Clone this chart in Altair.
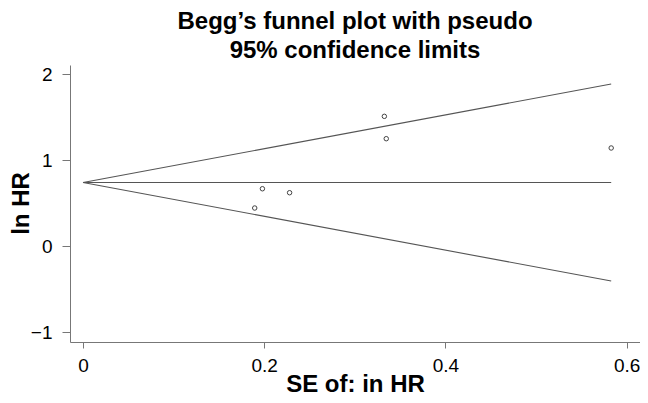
import altair as alt
import pandas as pd

# Study points (SE of ln HR, ln HR)
se = [0.1895, 0.198, 0.228, 0.3326, 0.3347, 0.583]
lnhr = [0.442, 0.666, 0.62, 1.508, 1.248, 1.14]

# Funnel lines (pseudo 95% limits) read at their two ends
line_se = [0.0, 0.583]
upper = [0.738, 1.884]
center = [0.738, 0.738]
lower = [0.738, -0.407]

x_ticks = [0, 0.2, 0.4, 0.6]
y_ticks = [-1, 0, 1, 2]

pts = pd.DataFrame({"se": se, "lnhr": lnhr})
lines = pd.DataFrame({
    "se": line_se * 3,
    "lnhr": upper + center + lower,
    "series": ["upper"] * 2 + ["center"] * 2 + ["lower"] * 2,
})

FONT = "Liberation Sans"

xscale = alt.Scale(domain=[-0.0144, 0.6148], nice=False, zero=False)
yscale = alt.Scale(domain=[-1.116, 2.105], nice=False, zero=False)

xaxis = alt.Axis(
    title="SE of: in HR", values=x_ticks, grid=False,
    labelExpr="datum.value == 0 ? '0' : format(datum.value, '.1f')",
    tickSize=6, labelPadding=8, titleY=49, titleBaseline="alphabetic",
)
yaxis = alt.Axis(
    title="ln HR", values=y_ticks, grid=False, format="d",
    tickSize=8, labelPadding=10, titleX=-42, titleY=138,
    titleBaseline="alphabetic", titleAngle=-90,
)

line_layer = alt.Chart(lines).mark_line(color="#555555", strokeWidth=1.1).encode(
    x=alt.X("se:Q", scale=xscale, axis=xaxis),
    y=alt.Y("lnhr:Q", scale=yscale, axis=yaxis),
    detail="series:N",
)

point_layer = alt.Chart(pts).mark_point(
    shape="circle", filled=False, size=20, stroke="#444444", strokeWidth=1, opacity=1
).encode(
    x=alt.X("se:Q", scale=xscale, axis=xaxis),
    y=alt.Y("lnhr:Q", scale=yscale, axis=yaxis),
)

chart = alt.layer(line_layer, point_layer).properties(
    width=570,
    height=277,
    padding={"left": 62, "top": 57, "right": 0, "bottom": 53},
    autosize=alt.AutoSizeParams(type="none"),
    title=alt.TitleParams(
        text=["Begg\u2019s funnel plot with pseudo", "95% confidence limits"],
        font=FONT, fontSize=24, fontWeight="bold", color="black",
        lineHeight=29, anchor="middle", frame="group",
        baseline="alphabetic", offset=17, dy=34,
    ),
).configure_view(stroke=None).configure_axis(
    domainColor="#777777", tickColor="#777777",
    labelFont=FONT, labelFontSize=19, labelColor="black",
    titleFont=FONT, titleFontSize=24, titleFontWeight="bold", titleColor="black",
)

chart.save("out.html", embed_options={"renderer": "svg", "actions": False})
